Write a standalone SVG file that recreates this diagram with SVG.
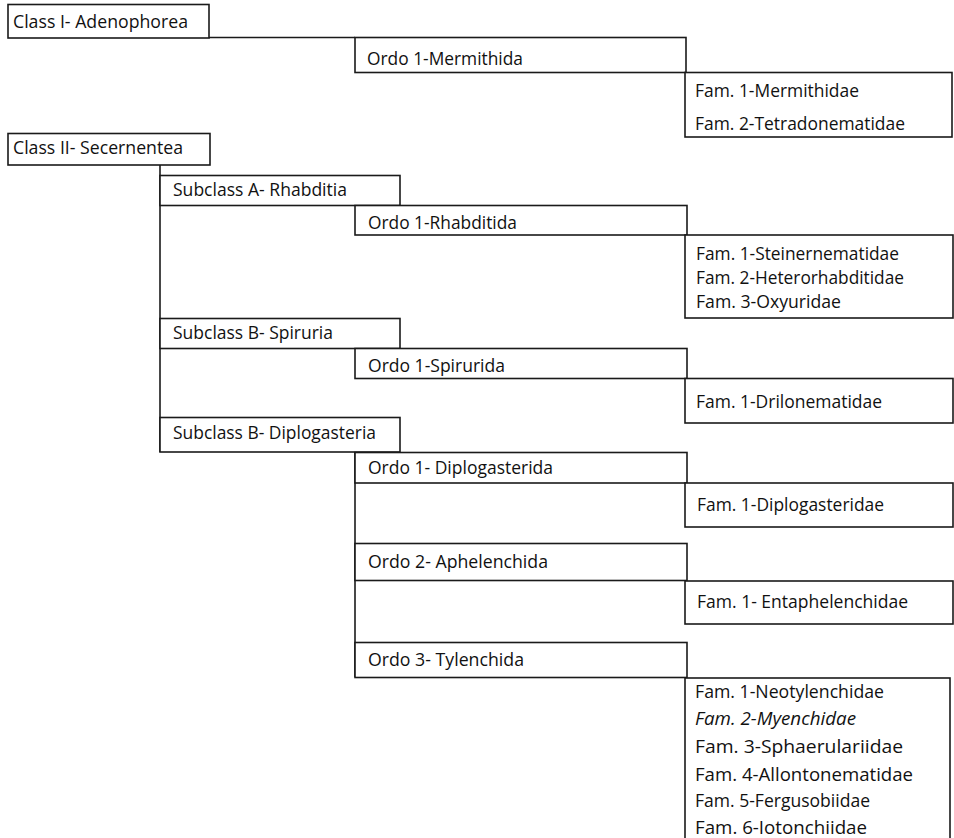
<svg xmlns="http://www.w3.org/2000/svg" width="954" height="838" viewBox="0 0 954 838">
<style>
.box{fill:#fff;stroke:#1a1a1a;stroke-width:1.6}
.con{fill:none;stroke:#1a1a1a;stroke-width:1.6}
text{font-family:"Open Sans","Lato","Liberation Sans",sans-serif;font-size:17.6px;fill:#111}
.it{font-style:italic}
</style>
<rect width="954" height="838" fill="#fff"/>
<g id="connectors">
<path class="con" d="M209,37.5 H355"/>
<path class="con" d="M160,165 V452"/>
<path class="con" d="M355,452 V677"/>
</g>
<g id="class1"><rect class="box" x="8" y="4.5" width="201" height="33.5"/><text x="13" y="28" textLength="175" lengthAdjust="spacingAndGlyphs">Class I- Adenophorea</text></g>
<g id="ordo-mermithida"><rect class="box" x="355" y="37.5" width="331" height="35"/><text x="367" y="65" textLength="156" lengthAdjust="spacingAndGlyphs">Ordo 1-Mermithida</text></g>
<g id="fam-mermithida"><rect class="box" x="685" y="72.5" width="267" height="64.5"/><text x="695" y="97" textLength="164" lengthAdjust="spacingAndGlyphs">Fam. 1-Mermithidae</text><text x="695" y="130" textLength="210" lengthAdjust="spacingAndGlyphs">Fam. 2-Tetradonematidae</text></g>
<g id="class2"><rect class="box" x="8" y="133.5" width="202" height="31.5"/><text x="13" y="154" textLength="170" lengthAdjust="spacingAndGlyphs">Class II- Secernentea</text></g>
<g id="subclass-a"><rect class="box" x="160" y="175.5" width="240" height="30"/><text x="173" y="196" textLength="174" lengthAdjust="spacingAndGlyphs">Subclass A- Rhabditia</text></g>
<g id="ordo-rhabditida"><rect class="box" x="355" y="205.5" width="332" height="29.5"/><text x="368" y="229" textLength="149" lengthAdjust="spacingAndGlyphs">Ordo 1-Rhabditida</text></g>
<g id="fam-rhabditida"><rect class="box" x="685" y="235" width="268" height="83"/><text x="696" y="260" textLength="203" lengthAdjust="spacingAndGlyphs">Fam. 1-Steinernematidae</text><text x="696" y="284" textLength="208" lengthAdjust="spacingAndGlyphs">Fam. 2-Heterorhabditidae</text><text x="696" y="308" textLength="145" lengthAdjust="spacingAndGlyphs">Fam. 3-Oxyuridae</text></g>
<g id="subclass-b-spiruria"><rect class="box" x="160" y="318.5" width="240" height="30"/><text x="173" y="339" textLength="160" lengthAdjust="spacingAndGlyphs">Subclass B- Spiruria</text></g>
<g id="ordo-spirurida"><rect class="box" x="355" y="348.5" width="332" height="30"/><text x="368" y="372" textLength="137" lengthAdjust="spacingAndGlyphs">Ordo 1-Spirurida</text></g>
<g id="fam-spirurida"><rect class="box" x="685" y="378.5" width="268" height="44.5"/><text x="696" y="408" textLength="186" lengthAdjust="spacingAndGlyphs">Fam. 1-Drilonematidae</text></g>
<g id="subclass-b-diplogasteria"><rect class="box" x="160" y="417.5" width="240" height="34.5"/><text x="173" y="439" textLength="203" lengthAdjust="spacingAndGlyphs">Subclass B- Diplogasteria</text></g>
<g id="ordo-diplogasterida"><rect class="box" x="355" y="452.5" width="332" height="30.5"/><text x="368" y="474" textLength="185" lengthAdjust="spacingAndGlyphs">Ordo 1- Diplogasterida</text></g>
<g id="fam-diplogasterida"><rect class="box" x="685" y="483" width="268" height="44"/><text x="697" y="511" textLength="187" lengthAdjust="spacingAndGlyphs">Fam. 1-Diplogasteridae</text></g>
<g id="ordo-aphelenchida"><rect class="box" x="355" y="543.5" width="332" height="37"/><text x="368" y="568" textLength="180" lengthAdjust="spacingAndGlyphs">Ordo 2- Aphelenchida</text></g>
<g id="fam-aphelenchida"><rect class="box" x="685" y="581" width="268" height="43"/><text x="697" y="608" textLength="211" lengthAdjust="spacingAndGlyphs">Fam. 1- Entaphelenchidae</text></g>
<g id="ordo-tylenchida"><rect class="box" x="355" y="642.5" width="332" height="35"/><text x="368" y="666" textLength="156" lengthAdjust="spacingAndGlyphs">Ordo 3- Tylenchida</text></g>
<g id="fam-tylenchida"><rect class="box" x="685" y="678" width="265" height="200"/><text x="695" y="698" textLength="189" lengthAdjust="spacingAndGlyphs">Fam. 1-Neotylenchidae</text><text class="it" x="695" y="725" textLength="161" lengthAdjust="spacingAndGlyphs">Fam. 2-Myenchidae</text><text x="695" y="753" textLength="208" lengthAdjust="spacingAndGlyphs">Fam. 3-Sphaerulariidae</text><text x="695" y="781" textLength="218" lengthAdjust="spacingAndGlyphs">Fam. 4-Allontonematidae</text><text x="695" y="807" textLength="175" lengthAdjust="spacingAndGlyphs">Fam. 5-Fergusobiidae</text><text x="695" y="834" textLength="172" lengthAdjust="spacingAndGlyphs">Fam. 6-Iotonchiidae</text></g>
</svg>
